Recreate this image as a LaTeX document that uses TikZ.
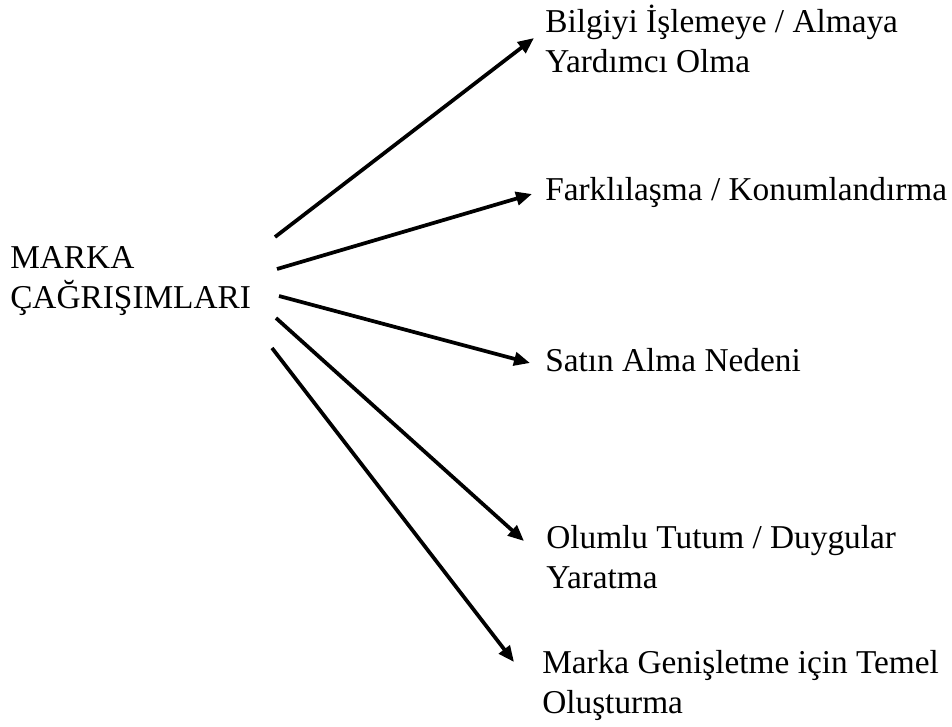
\documentclass[tikz,border=0pt]{standalone}
\usepackage{fontspec}
\setmainfont{Liberation Serif}
\usetikzlibrary{arrows.meta}
\begin{document}
\begin{tikzpicture}[x=0.75pt,y=-0.75pt,
  label/.style={anchor=base west,inner sep=0pt,align=left,
    font=\fontsize{25}{30}\selectfont},
  link/.style={line width=2.8pt,-{Triangle[length=12pt,width=10pt]}}]
\useasboundingbox (0,0) rectangle (952,726);

% central concept and its five effects (positions give the last baseline)
\node[label] (src) at (10,308) {MARKA\\ÇAĞRIŞIMLARI};
\node[label] (t1) at (545,72) {Bilgiyi İşlemeye / Almaya\\Yardımcı Olma};
\node[label] (t2) at (545,200) {Farklılaşma / Konumlandırma};
\node[label] (t3) at (545,371) {Satın Alma Nedeni};
\node[label] (t4) at (546,588) {Olumlu Tutum / Duygular\\Yaratma};
\node[label] (t5) at (542,713) {Marka Genişletme için Temel\\Oluşturma};

% start and end points of the arrows
\coordinate (s1) at (275,237); \coordinate (e1) at (534,38);
\coordinate (s2) at (277,269); \coordinate (e2) at (532,194);
\coordinate (s3) at (279,296); \coordinate (e3) at (530,363);
\coordinate (s4) at (276,318); \coordinate (e4) at (524,541);
\coordinate (s5) at (272,348); \coordinate (e5) at (514,662);

\draw[link] (s1) -- (e1);
\draw[link] (s2) -- (e2);
\draw[link] (s3) -- (e3);
\draw[link] (s4) -- (e4);
\draw[link] (s5) -- (e5);
\end{tikzpicture}
\end{document}
